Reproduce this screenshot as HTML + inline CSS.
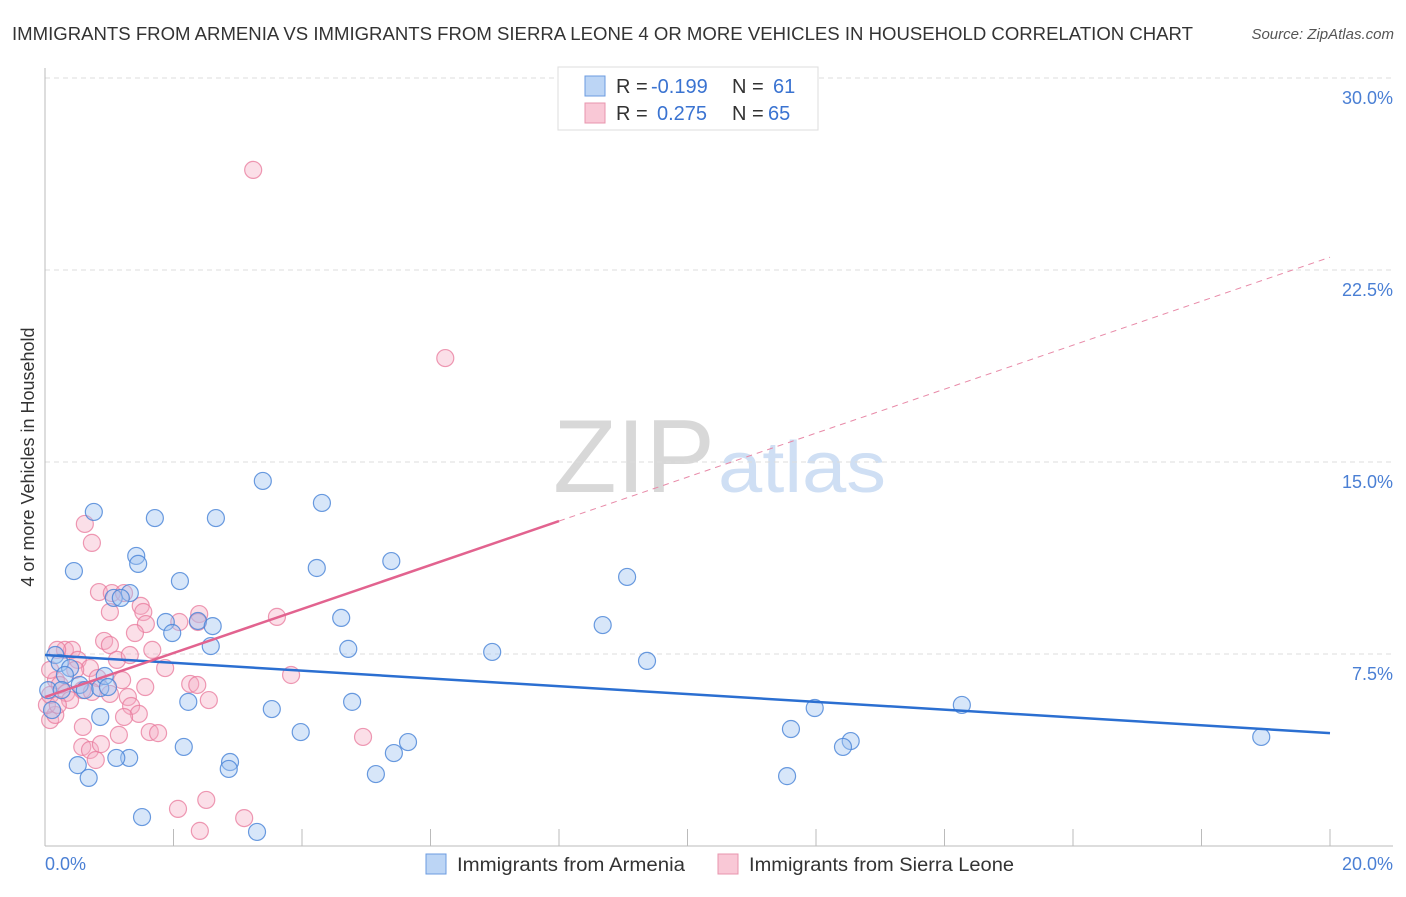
<!DOCTYPE html>
<html><head><meta charset="utf-8"><style>
body{margin:0;background:#fff;font-family:"Liberation Sans",sans-serif}
svg text{font-family:"Liberation Sans",sans-serif}
</style></head><body>
<svg width="1406" height="892" xmlns="http://www.w3.org/2000/svg">
<text x="12" y="40" font-size="18" fill="#333" textLength="1181" lengthAdjust="spacingAndGlyphs">IMMIGRANTS FROM ARMENIA VS IMMIGRANTS FROM SIERRA LEONE 4 OR MORE VEHICLES IN HOUSEHOLD CORRELATION CHART</text>
<text x="1394" y="39" font-size="15" fill="#555" font-style="italic" text-anchor="end">Source: ZipAtlas.com</text>
<g>
<text x="553" y="492" font-size="104" fill="#d8d8d8" font-family="Liberation Serif" textLength="162" lengthAdjust="spacingAndGlyphs">ZIP</text>
<text x="718" y="492" font-size="72" fill="#cfdff4" textLength="168" lengthAdjust="spacingAndGlyphs">atlas</text>
</g>
<g id="grid"></g><g id="axes"></g><g id="pts"></g><g id="lines"></g>
<text x="34" y="457" font-size="18" fill="#333" transform="rotate(-90 34 457)" text-anchor="middle">4 or more Vehicles in Household</text>
<g>
<rect x="558" y="67" width="260" height="63" fill="#fff" stroke="#ddd"/>
<rect x="585" y="76" width="20" height="20" fill="#bcd5f5" stroke="#6b9be0"/>
<rect x="585" y="103" width="20" height="20" fill="#f9c8d6" stroke="#e895ad"/>
<text x="616" y="93" font-size="20" fill="#333">R = <tspan x="651" fill="#3a73d1">-0.199</tspan></text>
<text x="732" y="93" font-size="20" fill="#333">N = <tspan x="773" fill="#3a73d1">61</tspan></text>
<text x="616" y="120" font-size="20" fill="#333">R = <tspan x="657" fill="#3a73d1">0.275</tspan></text>
<text x="732" y="120" font-size="20" fill="#333">N = <tspan x="768" fill="#3a73d1">65</tspan></text>
</g>
<g>
<rect x="426" y="854" width="20" height="20" fill="#bcd5f5" stroke="#6b9be0"/>
<text x="457" y="871" font-size="19" fill="#333" textLength="228" lengthAdjust="spacingAndGlyphs">Immigrants from Armenia</text>
<rect x="718" y="854" width="20" height="20" fill="#f9c8d6" stroke="#e895ad"/>
<text x="749" y="871" font-size="19" fill="#333" textLength="265" lengthAdjust="spacingAndGlyphs">Immigrants from Sierra Leone</text>
</g>
</svg>
<script>
const yTicks=[7.5,15,22.5,30];
const yTickLabels=["7.5%","15.0%","22.5%","30.0%"];
const xTickLabels=["0.0%","20.0%"];
const blueX=[0.76,1.71,2.66,3.39,4.31,0.45,1.42,1.45,2.10,4.23,5.39,9.06,1.32,1.07,1.18,1.88,1.98,2.38,2.61,2.58,4.61,4.72,8.68,6.96,9.37,0.16,0.23,0.39,0.31,0.54,0.62,0.86,0.93,0.98,0.86,2.23,3.53,4.78,3.98,2.16,2.88,2.86,1.31,1.11,0.51,0.68,5.65,5.43,5.15,11.61,11.98,12.54,12.42,11.55,14.27,18.93,1.51,3.30,0.11,0.05,0.26];
const blueY=[13.05,12.81,12.81,14.26,13.40,10.74,11.33,11.02,10.35,10.86,11.13,10.51,9.88,9.69,9.69,8.75,8.32,8.79,8.59,7.81,8.91,7.70,8.63,7.58,7.23,7.46,7.15,6.95,6.68,6.29,6.09,6.17,6.64,6.21,5.04,5.63,5.35,5.63,4.45,3.87,3.28,3.01,3.44,3.44,3.16,2.66,4.06,3.63,2.81,4.57,5.39,4.10,3.87,2.73,5.51,4.26,1.13,0.55,5.31,6.09,6.09];
const pinkX=[3.24,6.23,0.62,0.73,0.84,1.04,1.23,1.49,1.53,1.57,2.09,2.40,2.38,3.61,1.67,1.87,1.40,0.92,1.01,1.12,0.31,0.42,0.51,0.70,0.82,0.47,0.58,0.73,1.01,1.20,1.29,1.56,1.34,1.46,1.23,2.26,2.37,2.55,3.83,0.59,0.58,0.70,0.79,0.87,1.15,1.63,1.76,4.95,2.07,2.51,2.41,3.10,0.08,0.16,0.03,0.17,0.23,0.08,0.33,0.39,0.20,0.19,1.01,1.32,0.08];
const pinkY=[26.41,19.06,12.58,11.84,9.92,9.88,9.88,9.38,9.14,8.67,8.75,9.06,8.75,8.95,7.66,6.95,8.32,8.01,7.85,7.27,7.66,7.66,7.27,6.95,6.56,6.88,6.09,6.02,5.94,6.48,5.82,6.21,5.47,5.16,5.04,6.33,6.29,5.70,6.68,4.65,3.87,3.75,3.36,3.98,4.34,4.45,4.41,4.26,1.45,1.80,0.59,1.09,4.92,5.12,5.51,6.48,6.29,5.90,5.98,5.70,5.51,7.66,9.14,7.46,6.88];
const blueTrend=[7.46,4.41];
const pinkTrend=[5.82,23.0];
const pinkSolidEnd=8;

const NS="http://www.w3.org/2000/svg";
const X=v=>45+v*64.25, Y=v=>846-v*25.6;
function mk(tag,attrs,parent){const e=document.createElementNS(NS,tag);for(const k in attrs)e.setAttribute(k,attrs[k]);document.getElementById(parent).appendChild(e);return e;}
yTicks.forEach((t,i)=>{
 const g=mk('line',{x1:45,x2:1393,y1:Y(t),y2:Y(t),stroke:'#ddd','stroke-dasharray':'5,4'},'grid');
 
 
 const l=mk('text',{x:1393,y:Y(t)+26,'font-size':18,fill:'#4a7fd4','text-anchor':'end'},'axes');
 l.textContent=yTickLabels[i];
 
 
});
const ax=mk('line',{x1:45,x2:1393,y1:846,y2:846,stroke:'#bbb'},'axes');


const ay=mk('line',{x1:45,x2:45,y1:68,y2:846,stroke:'#bbb'},'axes');


for(let i=0;i<=10;i++){
 const t=mk('line',{x1:X(i*2),x2:X(i*2),y1:829,y2:846,stroke:'#bbb'},'axes');
 
 
}
[[0,'start',45],[20,'end',1393]].forEach((d,i)=>{
 const l=mk('text',{x:d[2],y:870,'font-size':18,fill:'#4a7fd4','text-anchor':d[1]},'axes');
 l.textContent=xTickLabels[i];
 
 
});
function pts(xs,ys,fill,stroke,name){xs.forEach((x,i)=>{
 const c=mk('circle',{cx:X(x),cy:Y(ys[i]),r:8.5,fill:fill,stroke:stroke,'stroke-width':1.2},'pts');
 
 
});}
pts(pinkX,pinkY,'rgba(245,170,195,0.38)','rgba(232,120,155,0.75)','point-sierra-leone');
pts(blueX,blueY,'rgba(160,195,240,0.42)','rgba(70,130,215,0.8)','point-armenia');
const bl=mk('line',{x1:X(0),y1:Y(blueTrend[0]),x2:X(20),y2:Y(blueTrend[1]),stroke:'#2b6fd1','stroke-width':2.5},'lines');


const pe=pinkTrend[0]+(pinkTrend[1]-pinkTrend[0])*pinkSolidEnd/20;
const pl=mk('line',{x1:X(0),y1:Y(pinkTrend[0]),x2:X(pinkSolidEnd),y2:Y(pe),stroke:'#e2638f','stroke-width':2.5},'lines');


const pd=mk('line',{x1:X(pinkSolidEnd),y1:Y(pe),x2:X(20),y2:Y(pinkTrend[1]),stroke:'#e88aa8','stroke-width':1,'stroke-dasharray':'6,5'},'lines');


</script>
</body></html>
